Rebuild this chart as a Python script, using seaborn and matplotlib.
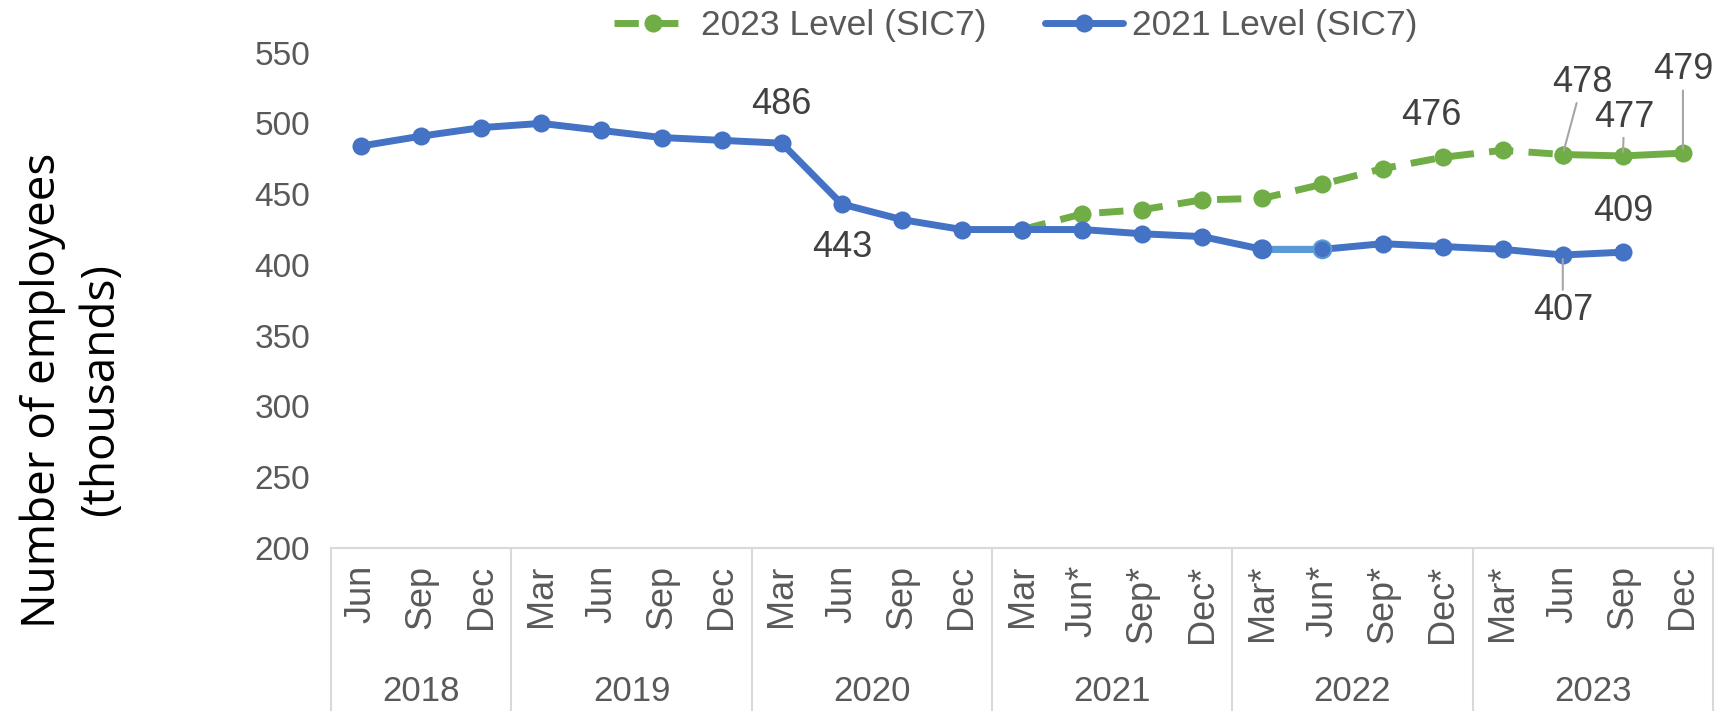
import numpy as np
import pandas as pd
import matplotlib
matplotlib.use("Agg")
import matplotlib.pyplot as plt
import seaborn as sns

# quarter labels along the x axis (asterisk = revised estimate)
MONTHS = ["Jun", "Sep", "Dec",
          "Mar", "Jun", "Sep", "Dec",
          "Mar", "Jun", "Sep", "Dec",
          "Mar", "Jun*", "Sep*", "Dec*",
          "Mar*", "Jun*", "Sep*", "Dec*",
          "Mar*", "Jun", "Sep", "Dec"]
YEARS = ["2018", "2019", "2020", "2021", "2022", "2023"]
YEAR_SIZES = [3, 4, 4, 4, 4, 4]

# employees (thousands)
LEVEL_2021 = [484, 491, 497, 500, 495, 490, 488, 486, 443, 432, 425,
              425, 425, 422, 420, 411, 411, 415, 413, 411, 407, 409]
LEVEL_2023 = [425, 436, 439, 446, 447, 457, 468, 476, 481, 478, 477, 479]  # from Mar 2021
START_2023 = 11

BLUE = "#4472C4"
LIGHT_BLUE = "#5B9BD5"
GREEN = "#70AD47"
GRID = "#D9D9D9"
TXT = "#595959"
LBL = "#404040"

n = len(MONTHS)
df = pd.DataFrame({
    "idx": np.arange(n),
    "month": MONTHS,
    "level_2021": LEVEL_2021 + [np.nan] * (n - len(LEVEL_2021)),
    "level_2023": [np.nan] * START_2023 + LEVEL_2023,
})

sns.set_theme(style="white")
plt.rcParams["font.family"] = ["Liberation Sans", "DejaVu Sans"]

fig = plt.figure(figsize=(17.19, 7.11), dpi=100)
ax = fig.add_axes([0.1926, 0.2293, 0.8039, 0.6967])

line_kw = dict(lw=5, marker="o", markersize=13, markeredgewidth=0)

# 2023 level: dashed up to Jun 2023, solid afterwards
sns.lineplot(data=df.iloc[START_2023:21], x="idx", y="level_2023", ax=ax,
             color=GREEN, linestyle=(0, (3.5, 2.2)), **line_kw)
h_green = ax.lines[-1]
sns.lineplot(data=df.iloc[20:], x="idx", y="level_2023", ax=ax,
             color=GREEN, **line_kw)

# 2021 level
sns.lineplot(data=df.iloc[:len(LEVEL_2021)], x="idx", y="level_2021", ax=ax,
             color=BLUE, **line_kw)
h_blue = ax.lines[-1]
sns.lineplot(data=df.iloc[15:17], x="idx", y="level_2021", ax=ax,
             color=LIGHT_BLUE, lw=5)
sns.scatterplot(data=df.iloc[15:17], x="idx", y="level_2021", ax=ax,
                color=BLUE, s=165, edgecolor=[BLUE, LIGHT_BLUE], linewidth=1.5, zorder=5)

# data labels
lab_kw = dict(textcoords="offset points", ha="center", va="center",
              fontsize=26, color=LBL)
lead = dict(arrowstyle="-", color="#A6A6A6", lw=1.5, shrinkA=0, shrinkB=3)
def y21(i):
    return LEVEL_2021[i]
def y23(i):
    return LEVEL_2023[i - START_2023]

ax.annotate("486", (7, y21(7)), xytext=(0, 28), **lab_kw)
ax.annotate("443", (8, y21(8)), xytext=(0, -31), **lab_kw)
ax.annotate("409", (21, y21(21)), xytext=(0, 29), **lab_kw)
ax.annotate("407", (20, y21(20)), xytext=(0, -40), arrowprops=lead, **lab_kw)
ax.annotate("476", (18, y23(18)), xytext=(-8, 30), **lab_kw)
ax.annotate("478", (20, y23(20)), xytext=(14, 52), arrowprops=lead, **lab_kw)
ax.annotate("477", (21, y23(21)), xytext=(1, 28), arrowprops=lead, **lab_kw)
ax.annotate("479", (22, y23(22)), xytext=(0, 60), arrowprops=lead, **lab_kw)

# axes
ax.set_xlim(-0.5, n - 0.5)
ax.set_ylim(200, 550)
ax.set_yticks(np.arange(200, 551, 50))
ax.set_xticks(np.arange(n))
ax.set_xticklabels(MONTHS, rotation=90)
ax.set_xlabel("")
ax.set_ylabel("")
ax.tick_params(axis="x", length=0, pad=12, labelsize=26, labelcolor=TXT)
ax.tick_params(axis="y", length=0, pad=15, labelsize=24, labelcolor=TXT)
for s in ["left", "right", "top"]:
    ax.spines[s].set_visible(False)
ax.spines["bottom"].set_color(GRID)
ax.spines["bottom"].set_linewidth(1.5)

# multi-level category box below the plot
trans = ax.get_xaxis_transform()
bounds = np.concatenate([[0], np.cumsum(YEAR_SIZES)]) - 0.5
for b in bounds:
    ax.plot([b, b], [0, -0.4], transform=trans, clip_on=False, color=GRID, lw=1.5)
for yr, lo, hi in zip(YEARS, bounds[:-1], bounds[1:]):
    ax.text((lo + hi) / 2, -0.29, yr, transform=trans, ha="center", va="center",
            fontsize=25, color=TXT)

fig.text(0.042, 0.4515, "Number of employees\n(thousands)", rotation=90,
         ha="center", va="center", fontsize=33, family=["Open Sans", "DejaVu Sans"],
         color="black", linespacing=1.35)

leg = ax.get_legend()
if leg is not None:
    leg.remove()
fig.legend([h_green, h_blue], ["2023 Level (SIC7)", "2021 Level (SIC7)"],
           loc="center", bbox_to_anchor=(0.591, 1 - 26 / 711), ncol=2, frameon=False,
           fontsize=25.5, labelcolor=TXT, handlelength=2.2, handletextpad=0.25,
           columnspacing=1.65)

fig.savefig("out.png", dpi=100)
